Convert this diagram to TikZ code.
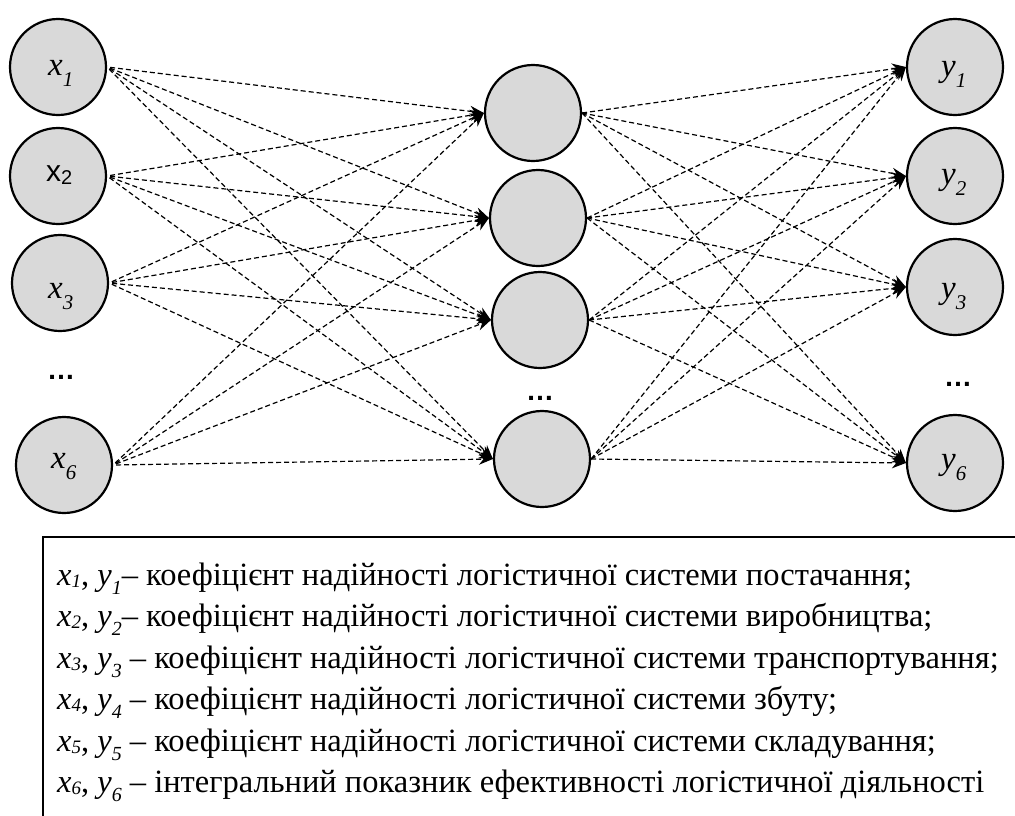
\documentclass[tikz,border=0pt]{standalone}
\usepackage{fontspec}
\setmainfont{Liberation Serif}
\newfontfamily\sansf{Liberation Sans}
\usetikzlibrary{arrows.meta}
\newcommand\xsub[1]{\textit{x}{\fontsize{19}{19}\selectfont\raisebox{-2pt}{\textit{#1}}}}
\newcommand\ysub[1]{\textit{y}{\fontsize{20}{20}\selectfont\raisebox{-9pt}{\textit{#1}}}}
\newcommand\nlab[2]{\textit{#1}{\fontsize{21}{21}\selectfont\raisebox{-11pt}{\textit{#2}}}}
\begin{document}
\begin{tikzpicture}[x=1pt,y=-1pt,
  neuron/.style={circle,draw=black,line width=2.2pt,fill=gray!30!white,minimum size=96pt,inner sep=0pt},
  lab/.style={anchor=base west,inner sep=0pt,font=\fontsize{33}{33}\selectfont},
  conn/.style={dashed,dash pattern=on 5pt off 3pt,line width=1.2pt,-{Stealth[length=14pt,width=11pt]}},
  dotsl/.style={font=\sansf\fontsize{28}{28}\selectfont\bfseries,inner sep=0pt},
  legend/.style={anchor=base west,inner sep=0pt,font=\fontsize{32.5}{32.5}\selectfont}]
\path[use as bounding box] (0,0) rectangle (1015,815);
\clip (0,0) rectangle (1015,815);
% input layer
\node[neuron] (x1) at (58,67) {};
\node[neuron] (x2) at (58,176) {};
\node[neuron] (x3) at (60,283) {};
\node[neuron] (x6) at (64,465) {};
% hidden layer
\node[neuron] (h1) at (533,113) {};
\node[neuron] (h2) at (538,218) {};
\node[neuron] (h3) at (540,320) {};
\node[neuron] (h4) at (542,459) {};
% output layer
\node[neuron] (y1) at (955,67) {};
\node[neuron] (y2) at (955,176) {};
\node[neuron] (y3) at (955,287) {};
\node[neuron] (y6) at (955,463) {};
% labels
\node[lab] (x1l) at (48,75) {\nlab{x}{1}};
\node[lab,font=\sansf\fontsize{30}{30}\selectfont] (x2l) at (46,181) {x{\fontsize{20}{20}\selectfont\raisebox{-3pt}{2}}};
\node[lab] (x3l) at (48,298) {\nlab{x}{3}};
\node[lab] (x6l) at (51,468) {\nlab{x}{6}};
\node[lab] (y1l) at (941,76) {\nlab{y}{1}};
\node[lab] (y2l) at (941,184) {\nlab{y}{2}};
\node[lab] (y3l) at (941,298) {\nlab{y}{3}};
\node[lab] (y6l) at (941,469) {\nlab{y}{6}};
% dots
\node[dotsl] (d1) at (61,377) {…};
\node[dotsl] (d2) at (540,398) {…};
\node[dotsl] (d3) at (958,384) {…};
% connections
\foreach \a in {x1,x2,x3,x6}
  \foreach \b in {h1,h2,h3,h4}
    \draw[conn,shorten <=3pt] (\a.east) -- (\b.west);
\foreach \a in {h1,h2,h3,h4}
  \foreach \b in {y1,y2,y3,y6}
    \draw[conn] (\a.east) -- (\b.west);
% legend
\draw[line width=1.8pt] (1030,537) -- (43,537) -- (43,830);
\node[legend] (l1) at (57,585) {\xsub{1}, \ysub{1}– коефіцієнт надійності логістичної системи постачання;};
\node[legend] (l2) at (57,626.5) {\xsub{2}, \ysub{2}– коефіцієнт надійності логістичної системи виробництва;};
\node[legend] (l3) at (57,668) {\xsub{3}, \ysub{3} – коефіцієнт надійності логістичної системи транспортування;};
\node[legend] (l4) at (57,709.5) {\xsub{4}, \ysub{4} – коефіцієнт надійності логістичної системи збуту;};
\node[legend] (l5) at (57,751) {\xsub{5}, \ysub{5} – коефіцієнт надійності логістичної системи складування;};
\node[legend] (l6) at (57,792.5) {\xsub{6}, \ysub{6} – інтегральний показник ефективності логістичної діяльності};
\end{tikzpicture}
\end{document}
